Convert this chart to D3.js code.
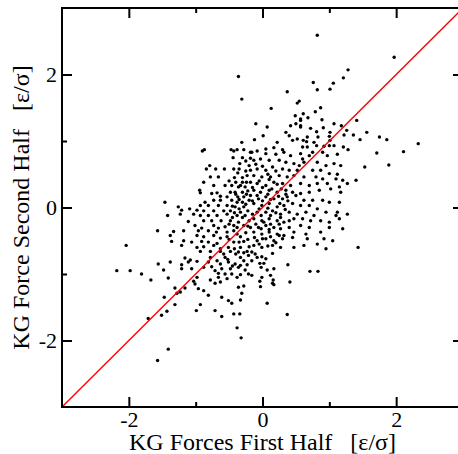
<!DOCTYPE html>
<html>
<head>
<meta charset="utf-8">
<script src="https://cdn.jsdelivr.net/npm/d3@7"></script>
<style>
  html, body { margin: 0; padding: 0; background: #fff; }
  svg { display: block; }
  text { font-family: "Liberation Serif", "Times New Roman", serif; fill: #000; }
</style>
</head>
<body>
<svg id="chart" width="458" height="454"></svg>
<script>
// KG force on each particle, estimated from the first and the second half of the run
const forcePairs = [
  [-0.90,0.85],[-0.43,0.85],[-0.18,0.83],[-0.44,0.75],[-0.30,0.75],[-0.18,0.74],[-0.34,0.66],[-0.20,0.63],[-0.79,0.63],[-0.84,0.58],
  [-0.70,0.58],[-0.57,0.58],[-0.43,0.58],[-0.18,0.56],[-0.37,0.52],[-0.23,0.48],[-0.66,0.46],[-0.78,0.46],[-0.88,0.38],[-0.30,0.38],
  [-0.18,0.38],[-0.73,0.33],[-0.56,0.33],[-0.46,0.33],[-0.36,0.31],[-0.26,0.31],[-0.94,0.26],[-0.93,0.22],[-0.76,0.21],[-0.68,0.22],
  [-0.48,0.23],[-0.41,0.23],[-0.30,0.23],[-0.63,0.17],[-0.53,0.16],[-0.37,0.16],[-0.28,0.16],[-0.18,0.18],[-1.46,0.08],[-0.86,0.08],
  [-0.73,0.11],[-0.63,0.11],[-0.46,0.11],[-0.38,0.08],[-0.30,0.08],[-0.20,0.11],[-0.93,0.03],[-0.81,0.03],[-0.66,0.03],[-0.53,0.03],
  [-0.41,0.01],[-0.28,0.01],[-1.26,0.01],[-1.21,-0.04],[-1.09,-0.02],[-0.98,-0.04],[-0.88,-0.05],[-0.73,-0.05],[-0.58,-0.05],[-0.48,-0.05],
  [-0.33,-0.07],[-1.42,-0.12],[-1.23,-0.10],[-1.03,-0.10],[-0.93,-0.12],[-0.81,-0.12],[-0.68,-0.12],[-0.53,-0.10],[-0.38,-0.12],[-0.26,-0.12],
  [-1.11,-0.21],[-0.88,-0.20],[-0.76,-0.20],[-0.62,-0.20],[-0.48,-0.20],[-0.36,-0.22],[-0.20,-0.20],[-1.01,-0.27],[-0.91,-0.31],[-0.73,-0.27],
  [-0.66,-0.31],[-0.56,-0.29],[-0.43,-0.27],[-0.28,-0.27],[-1.57,-0.35],[-1.33,-0.36],[-1.18,-0.35],[-0.96,-0.35],[-0.81,-0.35],[-0.69,-0.37],
  [-0.53,-0.37],[-0.43,-0.35],[-1.38,-0.42],[-0.98,-0.42],[-0.88,-0.44],[-0.73,-0.42],[-0.63,-0.46],[-0.53,-0.44],[-0.33,-0.44],[-1.36,-0.51],
  [-1.18,-0.50],[-1.06,-0.52],[-0.91,-0.51],[-0.81,-0.52],[-0.68,-0.54],[-0.43,-0.52],[-0.28,-0.51],[-1.21,-0.57],[-0.98,-0.60],[-0.88,-0.59],
  [-0.73,-0.57],[-0.63,-0.62],[-0.51,-0.60],[-0.33,-0.60],[-0.20,-0.59],
  [-0.16,0.83],[-0.08,0.85],[0.05,0.81],[0.20,0.80],[0.32,0.83],[0.42,0.78],[0.57,0.81],[0.60,0.73],[0.70,0.78],[0.75,0.83],
  [0.90,0.83],[0.97,0.78],[1.12,0.80],[-0.13,0.71],[-0.03,0.73],[0.10,0.71],[0.25,0.71],[0.35,0.68],[0.47,0.66],[0.55,0.63],
  [0.62,0.68],[0.82,0.68],[0.95,0.63],[1.07,0.66],[1.17,0.63],[-0.08,0.58],[0.05,0.56],[0.15,0.61],[0.30,0.58],[0.40,0.56],
  [0.52,0.56],[0.75,0.56],[0.87,0.56],[1.00,0.51],[1.12,0.50],[-0.13,0.48],[-0.01,0.46],[0.12,0.46],[0.25,0.48],[0.37,0.46],
  [0.47,0.48],[0.62,0.46],[0.80,0.46],[0.90,0.43],[1.10,0.43],[1.20,0.41],[-0.08,0.36],[0.05,0.33],[0.17,0.38],[0.30,0.36],
  [0.42,0.33],[0.57,0.36],[0.70,0.33],[0.82,0.36],[0.97,0.36],[1.15,0.31],[1.27,0.36],[-0.13,0.26],[-0.03,0.23],[0.10,0.26],
  [0.22,0.23],[0.35,0.26],[0.45,0.23],[0.57,0.21],[0.70,0.23],[0.85,0.26],[1.02,0.28],[1.17,0.23],[-0.06,0.13],[0.05,0.16],
  [0.17,0.13],[0.30,0.13],[0.37,0.16],[0.50,0.18],[0.62,0.11],[0.75,0.11],[0.90,0.11],[1.00,0.08],[1.15,0.08],[-0.13,0.06],
  [-0.01,0.03],[0.10,0.06],[0.22,0.01],[0.32,0.03],[0.45,0.06],[0.57,0.03],[0.70,0.03],[0.82,-0.02],[0.95,-0.07],[1.12,-0.07],
  [-0.08,-0.07],[0.05,-0.07],[0.15,-0.05],[0.27,-0.10],[0.40,-0.07],[0.52,-0.10],[0.65,-0.07],[0.77,-0.12],[1.10,-0.12],[1.27,-0.10],
  [-0.13,-0.17],[-0.01,-0.20],[0.10,-0.17],[0.22,-0.20],[0.32,-0.22],[0.47,-0.17],[0.60,-0.17],[0.72,-0.20],[0.87,-0.20],[1.00,-0.22],
  [1.15,-0.17],[-0.06,-0.30],[0.05,-0.27],[0.17,-0.30],[0.27,-0.32],[0.40,-0.30],[0.57,-0.27],[0.70,-0.30],[1.00,-0.30],[1.20,-0.32],
  [-0.13,-0.37],[-0.01,-0.40],[0.10,-0.37],[0.22,-0.40],[0.32,-0.42],[0.47,-0.37],[0.65,-0.40],[0.87,-0.37],[-0.08,-0.50],[0.05,-0.47],
  [0.17,-0.50],[0.30,-0.47],[0.45,-0.45],[0.67,-0.47],[0.92,-0.47],[1.05,-0.50],[-0.13,-0.57],[-0.01,-0.60],[0.15,-0.57],[0.27,-0.60],
  [0.47,-0.60],[0.62,-0.57],[0.82,-0.55],[0.95,-0.62],
  [-0.93,-0.66],[-0.78,-0.66],[-0.63,-0.66],[-0.48,-0.66],[-0.36,-0.67],[-0.23,-0.66],[-1.16,-0.76],[-0.78,-0.75],[-0.56,-0.75],[-0.33,-0.75],
  [-0.21,-0.72],[-1.56,-0.85],[-1.38,-0.82],[-1.21,-0.86],[-1.11,-0.82],[-1.08,-0.79],[-0.98,-0.81],[-0.81,-0.82],[-0.68,-0.80],[-0.63,-0.85],
  [-0.51,-0.82],[-0.41,-0.85],[-0.33,-0.87],[-0.23,-0.86],[-1.48,-0.94],[-1.21,-0.92],[-1.06,-0.92],[-0.88,-0.90],[-0.76,-0.89],[-0.71,-0.95],
  [-0.61,-0.92],[-0.48,-0.92],[-0.36,-0.90],[-0.26,-0.94],[-0.66,-0.99],[-0.56,-1.00],[-0.46,-1.00],[-0.33,-1.01],[-0.21,-1.00],[-1.41,-1.06],
  [-0.98,-1.05],[-0.78,-1.09],[-0.66,-1.05],[-0.53,-1.07],[-0.38,-1.05],[-1.67,-1.09],[-1.03,-1.11],[-1.01,-1.15],[-0.71,-1.14],[-0.63,-1.12],
  [-1.31,-1.21],[-1.16,-1.21],[-1.23,-1.27],[-0.96,-1.22],[-0.88,-1.25],[-0.36,-1.20],[-0.28,-1.18],[-1.28,-1.29],[-0.81,-1.32],[-0.61,-1.35],
  [-0.31,-1.29],[-1.47,-1.35],[-0.51,-1.40],[-0.46,-1.44],[-0.33,-1.39],[-1.31,-1.46],[-0.93,-1.46],[-0.99,-1.55],[-0.71,-1.55],[-0.43,-1.60],
  [-0.34,-1.60],[-1.51,-1.62],[-1.43,-1.56],[-0.61,-1.64],[-0.38,-1.81],[-0.32,-1.96],[-1.41,-2.13],[-1.57,-2.30],
  [-0.16,-0.67],[-0.11,-0.70],[-0.08,-0.75],[-0.01,-0.74],[0.05,-0.77],[0.15,-0.69],[-0.16,-0.80],[-0.04,-0.84],[0.02,-0.84],[0.38,-0.86],
  [-0.02,-0.90],[0.07,-0.94],[0.17,-0.92],[0.71,-0.96],[0.83,-0.96],[-0.16,-1.02],[-0.01,-1.05],[0.12,-1.02],[-0.04,-1.11],[0.16,-1.09],
  [0.15,-1.14],[0.41,-1.12],[-0.03,-1.19],[0.17,-1.16],[0.07,-1.44],[0.37,-1.61],
  [1.71,0.82],[2.11,0.84],[1.53,0.61],[1.89,0.64],[1.40,0.41],[1.43,-0.60],
  [-2.04,-0.57],[-2.18,-0.95],[-1.98,-0.95],[-1.81,-1.00],[-1.71,-1.67],[-0.87,0.87],
  [-0.36,1.97],[-0.31,1.63],[0.37,1.74],[0.55,1.60],[0.52,1.57],[0.13,1.49],[-0.10,1.26],[0.07,1.21],[0.49,1.38],[0.57,1.31],
  [0.50,1.26],[0.42,1.23],[-0.12,1.02],[0.01,1.08],[0.22,0.98],[0.35,1.13],[0.40,1.08],[0.57,1.21],[0.52,1.03],[0.45,1.01],
  [-0.31,0.98],[-0.47,0.87],[-0.38,0.87],[-0.28,0.87],[0.30,0.87],[0.05,0.88],[0.17,0.90],
  [0.82,2.59],[1.97,2.26],[1.28,2.07],[0.76,1.88],[1.06,1.87],[1.21,1.95],[0.82,1.77],[1.01,1.78],[0.87,1.50],[0.61,1.41],
  [0.79,1.44],[0.57,1.33],[0.68,1.35],[0.89,1.32],[1.41,1.31],[0.57,1.23],[0.72,1.19],[0.91,1.20],[1.07,1.26],[1.18,1.23],
  [1.26,1.16],[0.81,1.14],[1.01,1.13],[1.56,1.13],[0.67,1.06],[0.83,1.06],[1.00,1.07],[1.22,1.09],[1.36,1.09],[1.46,1.02],
  [1.75,1.06],[1.86,1.02],[0.61,1.01],[0.66,0.99],[0.77,0.98],[0.81,0.93],[1.01,1.01],[1.00,0.93],[1.21,0.91],[1.28,0.87],
  [2.33,0.96],[0.60,0.91],[0.67,0.91],[0.92,0.92],[1.07,0.93],
  // dense core near the diagonal
  [-0.10,0.65],[0.00,0.62],[0.08,0.50],[0.20,0.55],[-0.05,0.40],[0.10,0.42],[0.22,0.35],[-0.15,0.30],[0.00,0.30],[0.14,0.28],
  [0.28,0.28],[-0.08,0.18],[0.08,0.20],[0.24,0.17],[0.35,0.20],[-0.15,0.10],[0.00,0.10],[0.12,0.12],[0.26,0.06],[0.38,0.10],
  [-0.05,-0.02],[0.08,-0.01],[0.20,-0.08],[0.34,-0.03],[-0.15,-0.10],[-0.02,-0.12],[0.12,-0.12],[0.27,-0.15],[0.40,-0.20],[-0.10,-0.25],
  [0.02,-0.22],[0.12,-0.25],[0.25,-0.25],[-0.18,-0.30],[-0.02,-0.32],[0.10,-0.33],[-0.12,-0.45],[0.00,-0.47],[0.12,-0.44],[0.25,-0.42],
  [-0.05,-0.55],[0.08,-0.58],[0.20,-0.53],
  [-0.25,0.70],[-0.35,0.58],[-0.25,0.55],[-0.42,0.45],[-0.30,0.45],[-0.50,0.40],[-0.40,0.38],[-0.24,0.38],[-0.33,0.33],[-0.22,0.25],
  [-0.40,0.20],[-0.24,0.20],[-0.35,0.12],[-0.25,0.05],[-0.45,0.02],[-0.35,-0.02],[-0.22,-0.05],[-0.42,-0.08],[-0.30,-0.15],[-0.45,-0.15],
  [-0.22,-0.28],[-0.38,-0.30],[-0.50,-0.25],[-0.25,-0.38],[-0.38,-0.40],[-0.50,-0.48],[-0.35,-0.52],[-0.22,-0.48],[-0.42,-0.62],[-0.28,-0.68],
  [-0.40,-0.70],[-0.52,-0.78],[-0.28,-0.80],[-0.45,-0.88],[-0.58,-0.70]
];

const axisRange = [-3, 3];
const majorTicks = [-2, 0, 2];
const minorTicks = [-1, 1];
const xTitle = "KG Forces First Half\u00a0\u00a0\u00a0[\u03b5/\u03c3]";
const yTitle = "KG Force Second Half\u00a0\u00a0\u00a0[\u03b5/\u03c3]";

const svg = d3.select("#chart");
const frame = { left: 62, top: 8, right: 463, bottom: 407 };

const x = d3.scaleLinear().domain(axisRange).range([frame.left, frame.right]);
const y = d3.scaleLinear().domain(axisRange).range([frame.bottom, frame.top]);

// points
svg.append("g")
  .selectAll("circle")
  .data(forcePairs)
  .join("circle")
  .attr("cx", d => x(d[0]))
  .attr("cy", d => y(d[1]))
  .attr("r", 1.7)
  .attr("fill", "#000");

// y = x reference line
svg.append("line")
  .attr("x1", x(axisRange[0])).attr("y1", y(axisRange[0]))
  .attr("x2", x(axisRange[1])).attr("y2", y(axisRange[1]))
  .attr("stroke", "#ff0000")
  .attr("stroke-width", 1.4);

// axes: inward ticks on all four sides, labels on bottom and left
const plainLabel = d => String(d);   // hyphen-minus, as in the labels "-2"

function styleAxis(g) {
  g.select(".domain").remove();
  g.selectAll(".tick line").attr("stroke", "#000").attr("stroke-width", 2);
  g.selectAll(".tick text").style("font-size", "22px").attr("fill", "#000");
}

svg.append("g").attr("transform", `translate(0,${frame.bottom})`)
  .call(d3.axisBottom(x).tickValues(majorTicks).tickSize(-10).tickPadding(4).tickFormat(plainLabel))
  .call(styleAxis);
svg.append("g").attr("transform", `translate(0,${frame.bottom})`)
  .call(d3.axisBottom(x).tickValues(minorTicks).tickSize(-5).tickFormat(""))
  .call(styleAxis);
svg.append("g").attr("transform", `translate(0,${frame.top})`)
  .call(d3.axisTop(x).tickValues(majorTicks).tickSize(-10).tickFormat(""))
  .call(styleAxis);
svg.append("g").attr("transform", `translate(0,${frame.top})`)
  .call(d3.axisTop(x).tickValues(minorTicks).tickSize(-5).tickFormat(""))
  .call(styleAxis);

svg.append("g").attr("transform", `translate(${frame.left},0)`)
  .call(d3.axisLeft(y).tickValues(majorTicks).tickSize(-10).tickPadding(5).tickFormat(plainLabel))
  .call(styleAxis);
svg.append("g").attr("transform", `translate(${frame.left},0)`)
  .call(d3.axisLeft(y).tickValues(minorTicks).tickSize(-5).tickFormat(""))
  .call(styleAxis);
svg.append("g").attr("transform", `translate(${frame.right},0)`)
  .call(d3.axisRight(y).tickValues(majorTicks).tickSize(-10).tickFormat(""))
  .call(styleAxis);
svg.append("g").attr("transform", `translate(${frame.right},0)`)
  .call(d3.axisRight(y).tickValues(minorTicks).tickSize(-5).tickFormat(""))
  .call(styleAxis);

// plot frame
svg.append("rect")
  .attr("x", frame.left).attr("y", frame.top)
  .attr("width", frame.right - frame.left).attr("height", frame.bottom - frame.top)
  .attr("fill", "none").attr("stroke", "#000").attr("stroke-width", 2);

// axis titles
svg.append("text")
  .attr("x", (frame.left + frame.right) / 2).attr("y", 450)
  .attr("text-anchor", "middle")
  .style("font-size", "24px")
  .text(xTitle);

svg.append("text")
  .attr("transform", `translate(29,${(frame.top + frame.bottom) / 2}) rotate(-90)`)
  .attr("text-anchor", "middle")
  .style("font-size", "24px")
  .text(yTitle);
</script>
</body>
</html>
